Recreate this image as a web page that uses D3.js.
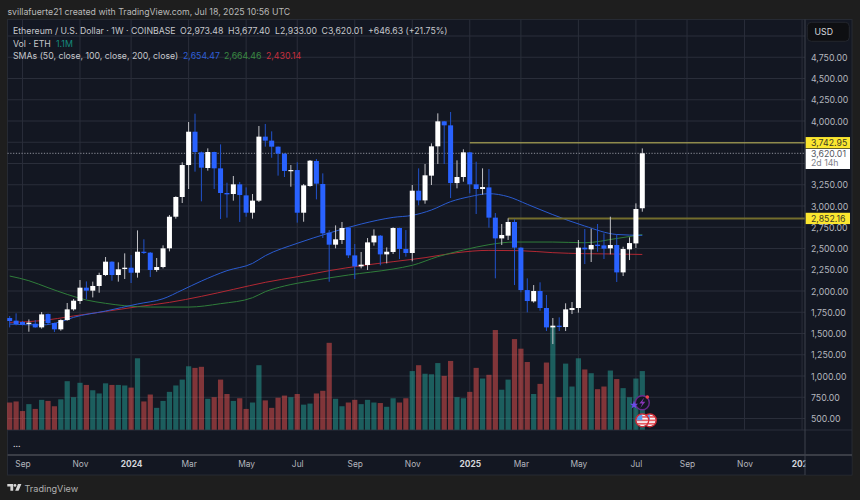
<!DOCTYPE html>
<html>
<head>
<meta charset="utf-8">
<script src="https://cdn.jsdelivr.net/npm/d3@7"></script>
<style>
  html, body { margin: 0; padding: 0; background: #1e1e1e; }
  svg { display: block; }
  text { font-family: Inter, "Noto Sans", sans-serif; }
</style>
</head>
<body>
<svg id="chart" width="860" height="500"></svg>
<script>
// weekly candles, first bar is the week of Aug 21 2023
const opens = [1682,1651,1635,1615,1615,1572,1729,1623,1549,1658,1784,1882,2039,2004,2059,2188,2345,2188,2259,2274,
  2215,2462,2451,2247,2282,2502,2874,3106,3482,3874,3631,3447,3635,3443,3153,3141,3255,3125,2921,3063,
  3816,3769,3698,3616,3412,3423,2921,3235,3529,3259,2686,2545,2600,2745,2419,2290,2306,2572,2651,2431,
  2459,2741,2494,2447,3180,3066,3357,3702,3996,3949,3270,3341,3631,3255,3200,3219,2863,2619,2651,2812,
  2510,2011,1878,2000,1800,1572,1592,1576,1776,1800,2510,2490,2545,2537,2502,2541,2219,2490,2560,2973.48];
const highs = [1706,1737,1647,1666,1658,1753,1735,1627,1666,1859,1906,2129,2113,2110,2215,2400,2349,2337,2443,2423,
  2713,2608,2459,2388,2537,2894,3114,3514,3988,4086,3640,3678,3639,3725,3274,3353,3282,3219,3141,3941,
  3965,3878,3700,3620,3482,3514,3259,3541,3553,3384,2717,2772,2812,2753,2553,2459,2623,2725,2659,2513,
  2749,2745,2717,3247,3443,3494,3737,4090,4000,4106,3537,3667,3635,3521,3443,3435,2917,2788,2855,2843,
  2515,2149,2070,2102,1953,1682,1690,1855,1870,2600,2729,2733,2788,2678,2874,2666,2521,2631,3031,3677.40];
const lows = [1572,1596,1596,1521,1568,1557,1604,1517,1533,1651,1768,1847,1902,1925,1980,2176,2121,2110,2141,2094,
  2157,2435,2164,2227,2266,2466,2851,3035,3200,3404,3055,3416,3200,2847,2863,3063,2812,2874,2851,3047,
  3698,3568,3357,3341,3227,2804,2815,3227,3078,2623,2109,2502,2553,2388,2141,2266,2247,2533,2302,2325,
  2435,2376,2404,2349,3008,3027,3247,3494,3494,3094,3208,3286,3149,2906,3133,2745,2149,2541,2600,2070,
  1985,1749,1862,1768,1529,1376,1529,1529,1729,1745,2317,2341,2462,2376,2431,2106,2176,2364,2506,2933.00];
const closes = [1647,1611,1604,1627,1572,1725,1623,1549,1658,1784,1886,2039,2004,2059,2188,2345,2188,2255,2274,2215,
  2462,2451,2247,2282,2502,2874,3106,3482,3874,3635,3451,3635,3443,3153,3137,3255,3129,2921,3063,3816,
  3769,3698,3616,3412,3423,2921,3243,3533,3263,2678,2545,2608,2741,2419,2290,2310,2572,2651,2431,2462,
  2741,2494,2447,3180,3066,3361,3702,3996,3949,3270,3341,3631,3255,3200,3223,2863,2619,2659,2812,2510,
  2011,1882,2000,1800,1572,1592,1576,1784,1800,2510,2490,2541,2529,2498,2541,2219,2494,2564,2965,3620.01];
// volume in millions of ETH
const volumes = [.51,.53,.35,.48,.39,.56,.54,.44,.57,.91,.61,.88,.84,.74,.68,.87,.84,.84,.83,.79,
  1.34,.53,.66,.41,.54,.71,.83,.94,1.19,1.16,1.18,.58,.61,.94,.67,.54,.59,.39,.51,1.21,
  .55,.41,.60,.64,.61,.67,.47,.49,.68,.73,1.63,.58,.44,.51,.56,.48,.56,.51,.50,.43,
  .59,.51,.59,1.10,1.21,1.05,1.04,1.25,1.01,1.29,.61,.59,.71,1.16,.96,1.03,1.87,.75,.94,1.70,
  1.52,1.27,.67,.86,1.26,1.93,.61,1.24,.81,1.34,1.13,1.06,.76,.81,1.11,.95,.78,.61,.96,1.10];

// moving averages, read at the listed bars
const sma50Bars = [0,5,8,10,15,20,24,27,30,34,38,40,45,50,55,60,63,66,69,72,75,78,81,85,90,95,99];
const sma50 = [1611,1600,1639,1690,1764,1847,1909,2011,2117,2239,2325,2415,2561,2682,2788,2866,2890,2953,3051,3110,3145,3110,3020,2898,2764,2665,2654.47];
const sma100Bars = [0,3,6,9,12,15,18,22,28,33,38,40,43,47,53,60,63,67,71,75,79,85,90,95,99];
const sma100 = [2176,2121,2039,1960,1894,1855,1827,1811,1811,1851,1921,1992,2059,2117,2188,2259,2302,2404,2482,2545,2576,2576,2568,2618,2664.46];
const sma200Bars = [0,5,10,15,20,25,30,35,40,45,50,55,60,65,70,75,80,85,90,95,99];
const sma200 = [1631,1651,1706,1760,1815,1866,1937,2019,2102,2168,2239,2298,2345,2392,2451,2478,2474,2451,2439,2435,2430.14];

const priceTicks = [500,750,1000,1250,1500,1750,2000,2250,2500,2750,3000,3250,3500,3750,4000,4250,4500,4750,5000];
// 3,500 3,750 and 5,000 sit under the price tags and the USD button
const priceLabels = [500,750,1000,1250,1500,1750,2000,2250,2500,2750,3000,3250,4000,4250,4500,4750];
const timeTickBars = [2,11,19,28,37,45,54,63,72,80,89,98,106,115,124];
const timeTickLabels = ["Sep","Nov","2024","Mar","May","Jul","Sep","Nov","2025","Mar","May","Jul","Sep","Nov","2026"];
const levels = [3742.95, 2852.16];
const levelStartBars = [72, 78];
const lastClose = 3620.01;

const svg = d3.select("#chart");

const paneLeft = 7.5, paneRight = 852, paneTop = 19.5, paneBottom = 475;
const axisX = 805, gridBottom = 430, timeAxisY = 455;
const fontSize = "8.75px";

const x = d3.scaleLinear().domain([0, 99]).range([9.7, 642.3]);
const y = d3.scaleLinear().domain([500, 5000]).range([418.5, 36]);
const yVol = d3.scaleLinear().domain([0, 1]).range([429.7, 376.4]);

const gridColor = "#2a2e3a";
const textColor = "#b4b6be";

// Pane background
svg.append("rect")
  .attr("x", paneLeft).attr("y", paneTop)
  .attr("width", paneRight - paneLeft).attr("height", paneBottom - paneTop)
  .attr("fill", "#131722").attr("stroke", "#262a33");

// Grid
svg.append("g").selectAll("line").data(priceTicks).join("line")
  .attr("x1", paneLeft).attr("x2", axisX)
  .attr("y1", d => y(d)).attr("y2", d => y(d))
  .attr("stroke", gridColor);
svg.append("g").selectAll("line").data(timeTickBars).join("line")
  .attr("x1", d => x(d)).attr("x2", d => x(d))
  .attr("y1", paneTop).attr("y2", gridBottom)
  .attr("stroke", gridColor);
svg.append("line").attr("x1", paneLeft).attr("x2", paneRight)
  .attr("y1", gridBottom).attr("y2", gridBottom).attr("stroke", gridColor);

// Volume
const bars = d3.range(closes.length);
svg.append("g").selectAll("rect").data(bars).join("rect")
  .attr("x", i => x(i) - 2.6)
  .attr("width", 5.2)
  .attr("y", i => yVol(volumes[i]))
  .attr("height", i => yVol(0) - yVol(volumes[i]))
  .attr("fill", i => closes[i] >= opens[i] ? "rgba(38,166,154,0.5)" : "rgba(239,83,80,0.5)");

// Last price dotted line
svg.append("line")
  .attr("x1", paneLeft).attr("x2", axisX)
  .attr("y1", y(lastClose)).attr("y2", y(lastClose))
  .attr("stroke", "#8f929c").attr("stroke-dasharray", "1.2,1.6");

// SMAs
const smaLine = d3.line().x(d => x(d[0])).y(d => y(d[1])).curve(d3.curveMonotoneX);
[[sma200Bars, sma200, "#b22833"], [sma100Bars, sma100, "#2f7d3a"], [sma50Bars, sma50, "#2a5bd0"]].forEach(s => {
  svg.append("path")
    .attr("d", smaLine(d3.zip(s[0], s[1])))
    .attr("fill", "none").attr("stroke", s[2]).attr("stroke-width", 1);
});

// Levels
levels.forEach((lvl, k) => {
  svg.append("line")
    .attr("x1", x(levelStartBars[k])).attr("x2", axisX)
    .attr("y1", y(lvl)).attr("y2", y(lvl))
    .attr("stroke", k == 0 ? "#c9bf5c" : "#736d2c")
    .attr("stroke-width", k == 0 ? 1 : 2);
});

// Candles
const isUp = i => closes[i] >= opens[i];
const candle = svg.append("g");
candle.selectAll("line").data(bars).join("line")
  .attr("x1", i => x(i)).attr("x2", i => x(i))
  .attr("y1", i => y(highs[i])).attr("y2", i => y(lows[i]))
  .attr("stroke", i => isUp(i) ? "#c4c4c8" : "#2152cc");
candle.selectAll("rect").data(bars).join("rect")
  .attr("x", i => x(i) - 2.5)
  .attr("width", 5)
  .attr("y", i => Math.min(y(opens[i]), y(closes[i])))
  .attr("height", i => Math.max(1.2, Math.abs(y(opens[i]) - y(closes[i]))))
  .attr("fill", i => isUp(i) ? "#ffffff" : "#2962ff");

// Time axis
const isYear = k => /^\d/.test(timeTickLabels[k]);
const xAxis = svg.append("g")
  .attr("transform", `translate(0,${timeAxisY})`)
  .call(d3.axisBottom(x).tickValues(timeTickBars)
    .tickFormat((d, k) => timeTickLabels[k]).tickSize(0).tickPadding(6));
xAxis.select(".domain").remove();
xAxis.selectAll("text")
  .attr("fill", (d, k) => isYear(k) ? "#d4d5da" : textColor)
  .style("font-size", "8.4px")
  .style("font-weight", (d, k) => isYear(k) ? 700 : 400);

// last time label is cut off by the price axis
svg.append("rect").attr("x", axisX + 0.5).attr("y", timeAxisY + 2)
  .attr("width", paneRight - axisX - 1).attr("height", 17.5).attr("fill", "#131722");

// Axes frame
svg.append("line").attr("x1", paneLeft).attr("x2", paneRight)
  .attr("y1", timeAxisY).attr("y2", timeAxisY).attr("stroke", "#3a3d46").attr("stroke-width", 2);
svg.append("line").attr("x1", axisX).attr("x2", axisX)
  .attr("y1", paneTop).attr("y2", paneBottom).attr("stroke", "#3f434d").attr("stroke-width", 1);

// Price axis
const yAxis = svg.append("g")
  .attr("transform", `translate(811,0)`)
  .call(d3.axisRight(y).tickValues(priceLabels).tickFormat(d3.format(",.2f")).tickSize(0).tickPadding(0));
yAxis.select(".domain").remove();
yAxis.selectAll("text").attr("fill", textColor).style("font-size", fontSize).attr("dy", "0.35em");

// USD button
svg.append("rect").attr("x", 807.3).attr("y", 22.3).attr("width", 42).attr("height", 19)
  .attr("rx", 4).attr("fill", "#0e0f12").attr("stroke", "#23262e");
svg.append("text").attr("x", 814.5).attr("y", 35).attr("fill", "#d8d9dd")
  .style("font-size", fontSize).text("USD");

// Price labels
const fmt = d3.format(",.2f");
levels.forEach(lvl => {
  svg.append("rect").attr("x", 805.7).attr("y", y(lvl) - 5.8).attr("width", 44.3).attr("height", 11.3)
    .attr("fill", "#fbe62f");
  svg.append("text").attr("x", 811).attr("y", y(lvl) + 3.2).attr("fill", "#3a3a26")
    .style("font-size", fontSize).text(fmt(lvl));
});
svg.append("rect").attr("x", 805.7).attr("y", 149).attr("width", 44.3).attr("height", 20).attr("fill", "#ffffff");
svg.append("text").attr("x", 811).attr("y", 156.7).attr("fill", "#555861")
  .style("font-size", fontSize).text(fmt(lastClose));
svg.append("text").attr("x", 811).attr("y", 166).attr("fill", "#7d8089")
  .style("font-size", fontSize).text("2d 14h");

// Event icons on the last bar
const iconX = x(99);
const flag = (cx, cy, id) => {
  svg.append("clipPath").attr("id", id).append("circle").attr("cx", cx).attr("cy", cy).attr("r", 6);
  const g = svg.append("g").attr("clip-path", `url(#${id})`);
  g.append("rect").attr("x", cx - 7).attr("y", cy - 7).attr("width", 14).attr("height", 14).attr("fill", "#f4f4f6");
  [-4.2, -0.8, 2.6].forEach(dy => {
    g.append("rect").attr("x", cx - 7).attr("y", cy + dy).attr("width", 14).attr("height", 1.7).attr("fill", "#e85a5f");
  });
  g.append("rect").attr("x", cx - 7).attr("y", cy - 7).attr("width", 7).attr("height", 7).attr("fill", "#5b9bea");
  svg.append("circle").attr("cx", cx).attr("cy", cy).attr("r", 6.5)
    .attr("fill", "none").attr("stroke", "#d42a35").attr("stroke-width", 1.3);
};
flag(iconX + 7.5, 420.3, "flag-b");
flag(iconX, 420.3, "flag-a");

svg.append("circle").attr("cx", iconX).attr("cy", 402.7).attr("r", 7)
  .attr("fill", "#131722").attr("stroke", "#6a2a8e").attr("stroke-width", 1.4);
svg.append("path")
  .attr("d", `M${iconX + 2},${397.5} L${iconX - 3},${403.5} L${iconX},${403.5} L${iconX - 2},${408} L${iconX + 3},${401.8} L${iconX},${401.8} Z`)
  .attr("fill", "#8a35b8");
svg.append("circle").attr("cx", iconX + 5).attr("cy", 397).attr("r", 1.8).attr("fill", "#f0444c");
svg.append("path")
  .attr("d", d3.symbol().type(d3.symbolStar).size(22)())
  .attr("transform", `translate(${iconX - 8.3},405)`)
  .attr("fill", "#6a4de8");

// Legend
const legend = (px, py, txt, color) => svg.append("text")
  .attr("x", px).attr("y", py).attr("fill", color || "#c6c7cb")
  .style("font-size", fontSize).text(txt);

legend(13, 34.3, "Ethereum / U.S. Dollar \u00b7 1W \u00b7 COINBASE");
legend(180, 34.3, "O2,973.48");
legend(228, 34.3, "H3,677.40");
legend(275, 34.3, "L2,933.00");
legend(321.5, 34.3, "C3,620.01");
legend(368, 34.3, "+646.63 (+21.75%)");
legend(13, 46.8, "Vol \u00b7 ETH");
legend(56, 46.8, "1.1M", "#158a7d");
legend(13, 59.2, "SMAs (50, close, 100, close, 200, close)");
legend(183, 59.2, "2,654.47", "#2f5fd8");
legend(224, 59.2, "2,664.46", "#3a8a42");
legend(266, 59.2, "2,430.14", "#c62f3d");
svg.append("text").attr("x", 13).attr("y", 447).attr("fill", "#d8d9dd")
  .style("font-size", fontSize).text("...");

// Header and footer
svg.append("text").attr("x", 7.5).attr("y", 15).attr("fill", "#b9b9b9")
  .style("font-size", fontSize).text("svillafuerte21 created with TradingView.com, Jul 18, 2025 10:56 UTC");

const logo = svg.append("g").attr("fill", "#d6d6d6");
logo.append("path").attr("d", "M7.3,484H13.2V490.8H10.4V486.6H7.3Z");
logo.append("circle").attr("cx", 15).attr("cy", 485.4).attr("r", 1.4);
logo.append("path").attr("d", "M15.2,490.8L18,484H21.4L18.6,490.8Z");
svg.append("text").attr("x", 24.5).attr("y", 491.5).attr("fill", "#b0b0b0")
  .style("font-size", "9.1px").text("TradingView");
</script>
</body>
</html>
